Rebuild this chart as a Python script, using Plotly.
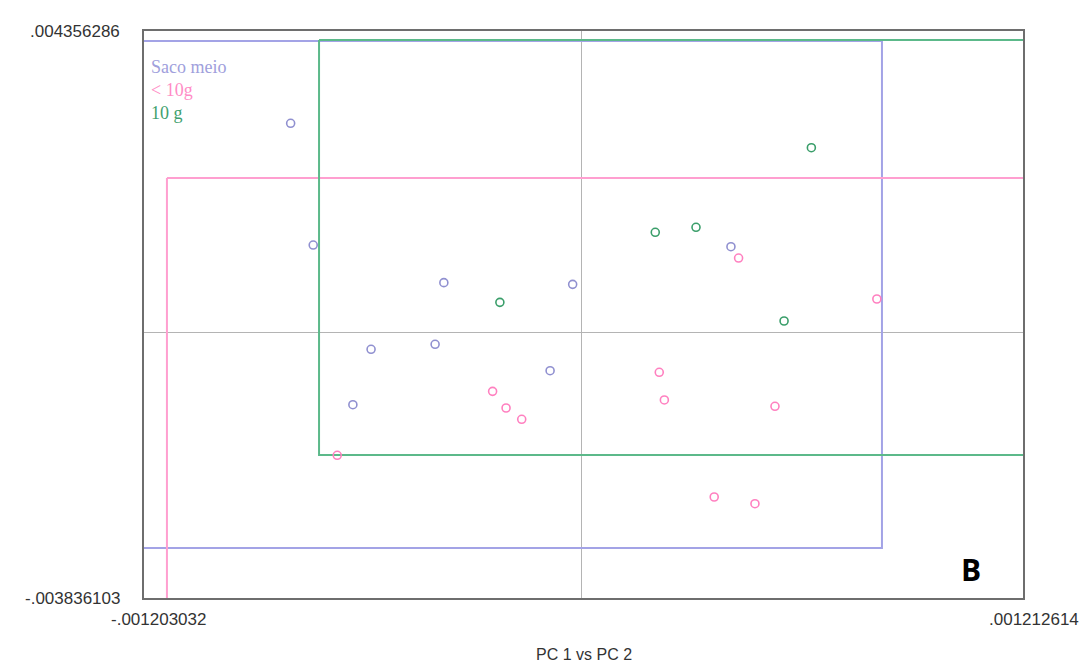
import plotly.graph_objects as go

# axis limits
x_min, x_max = -0.001203032, 0.001212614
y_min, y_max = -0.003836103, 0.004356286

# group points (PC1, PC2)
saco_x = [-0.000800, -0.000738, -0.000379, -0.000025, -0.000579, -0.000403, -0.000087, -0.000629, 0.000410]
saco_y = [0.003023, 0.001264, 0.000720, 0.000696, -0.000243, -0.000170, -0.000552, -0.001043, 0.001240]

menos_x = [-0.000245, -0.000208, -0.000165, -0.000672, 0.000431, 0.000811, 0.000213, 0.000227, 0.000531, 0.000364, 0.000476]
menos_y = [-0.000850, -0.001091, -0.001254, -0.001774, 0.001076, 0.000484, -0.000575, -0.000975, -0.001066, -0.002377, -0.002474]

dez_x = [0.000631, 0.000202, 0.000314, -0.000225, 0.000556]
dez_y = [0.002670, 0.001448, 0.001520, 0.000436, 0.000166]

# group boundary boxes (x0, x1, y0, y1); edges beyond the axes are clipped
saco_box = [-0.00130, 0.000825, -0.003114, 0.004212]
menos_box = [-0.001140, 0.00130, -0.00450, 0.002232]
dez_box = [-0.000722, 0.00130, -0.001770, 0.004226]

groups = ["Saco meio", "< 10g", "10 g"]
line_colors = ["#a3a3e6", "#ff9fd0", "#5cb98a"]
marker_colors = ["#9090d0", "#ff80c0", "#3a9e6a"]
label_colors = ["#a0a0dc", "#ff8cc6", "#3f9f6e"]

fig = go.Figure()

for box, col in zip([saco_box, menos_box, dez_box], line_colors):
    x0, x1, y0, y1 = box
    fig.add_trace(go.Scatter(x=[x0, x1, x1, x0, x0], y=[y1, y1, y0, y0, y1],
                             mode="lines", line=dict(color=col, width=2),
                             hoverinfo="skip", showlegend=False))

for xs, ys, col, name in zip([saco_x, menos_x, dez_x], [saco_y, menos_y, dez_y],
                             marker_colors, groups):
    fig.add_trace(go.Scatter(x=xs, y=ys, mode="markers", name=name, showlegend=False,
                             marker=dict(symbol="circle-open", size=8, color=col,
                                         line=dict(width=1.6, color=col))))

axis_common = dict(showgrid=False, showticklabels=False, ticks="",
                   zeroline=True, zerolinecolor="#b4b4b4", zerolinewidth=1,
                   showline=True, mirror=True, linecolor="#6e6e6e", linewidth=2)

fig.update_layout(
    width=1088, height=668,
    margin=dict(l=144, r=65, t=31, b=70),
    paper_bgcolor="white", plot_bgcolor="white",
    xaxis=dict(range=[x_min, x_max], **axis_common),
    yaxis=dict(range=[y_min, y_max], **axis_common),
    showlegend=False,
)

tick_font = dict(family="Liberation Sans, Arial, sans-serif", size=17, color="#333333")

def fmt(v):
    s = f"{abs(v):.9f}".lstrip("0")
    return ("-" if v < 0 else "") + s

ann = [
    dict(x=0, y=1, xref="paper", yref="paper", text=fmt(y_max), showarrow=False,
         xanchor="right", yanchor="middle", xshift=-22, font=tick_font),
    dict(x=0, y=0, xref="paper", yref="paper", text=fmt(y_min), showarrow=False,
         xanchor="right", yanchor="middle", xshift=-22, font=tick_font),
    dict(x=0, y=0, xref="paper", yref="paper", text=fmt(x_min), showarrow=False,
         xanchor="center", yanchor="top", xshift=14, yshift=-10, font=tick_font),
    dict(x=1, y=0, xref="paper", yref="paper", text=fmt(x_max), showarrow=False,
         xanchor="center", yanchor="top", xshift=11, yshift=-10, font=tick_font),
    dict(x=0.5, y=0, xref="paper", yref="paper", text="PC 1 vs PC 2", showarrow=False,
         xanchor="center", yanchor="top", yshift=-46,
         font=dict(family="Liberation Sans, Arial, sans-serif", size=16, color="#333333")),
    dict(x=1, y=0, xref="paper", yref="paper", text="<b>B</b>", showarrow=False,
         xanchor="right", yanchor="bottom", xshift=-40, yshift=6,
         font=dict(family="Open Sans, Liberation Sans, sans-serif", size=30, color="black")),
]
for i, (name, col) in enumerate(zip(groups, label_colors)):
    ann.append(dict(x=0, y=1, xref="paper", yref="paper", text=name, showarrow=False,
                    xanchor="left", yanchor="middle", xshift=5, yshift=-36 - 23 * i,
                    font=dict(family="Liberation Serif, Times New Roman, serif", size=18,
                              color=col)))
fig.update_layout(annotations=ann)

fig.write_html("out.html", config={"displayModeBar": False},
               post_script="document.body.style.margin='0';document.body.style.overflow='hidden';")
